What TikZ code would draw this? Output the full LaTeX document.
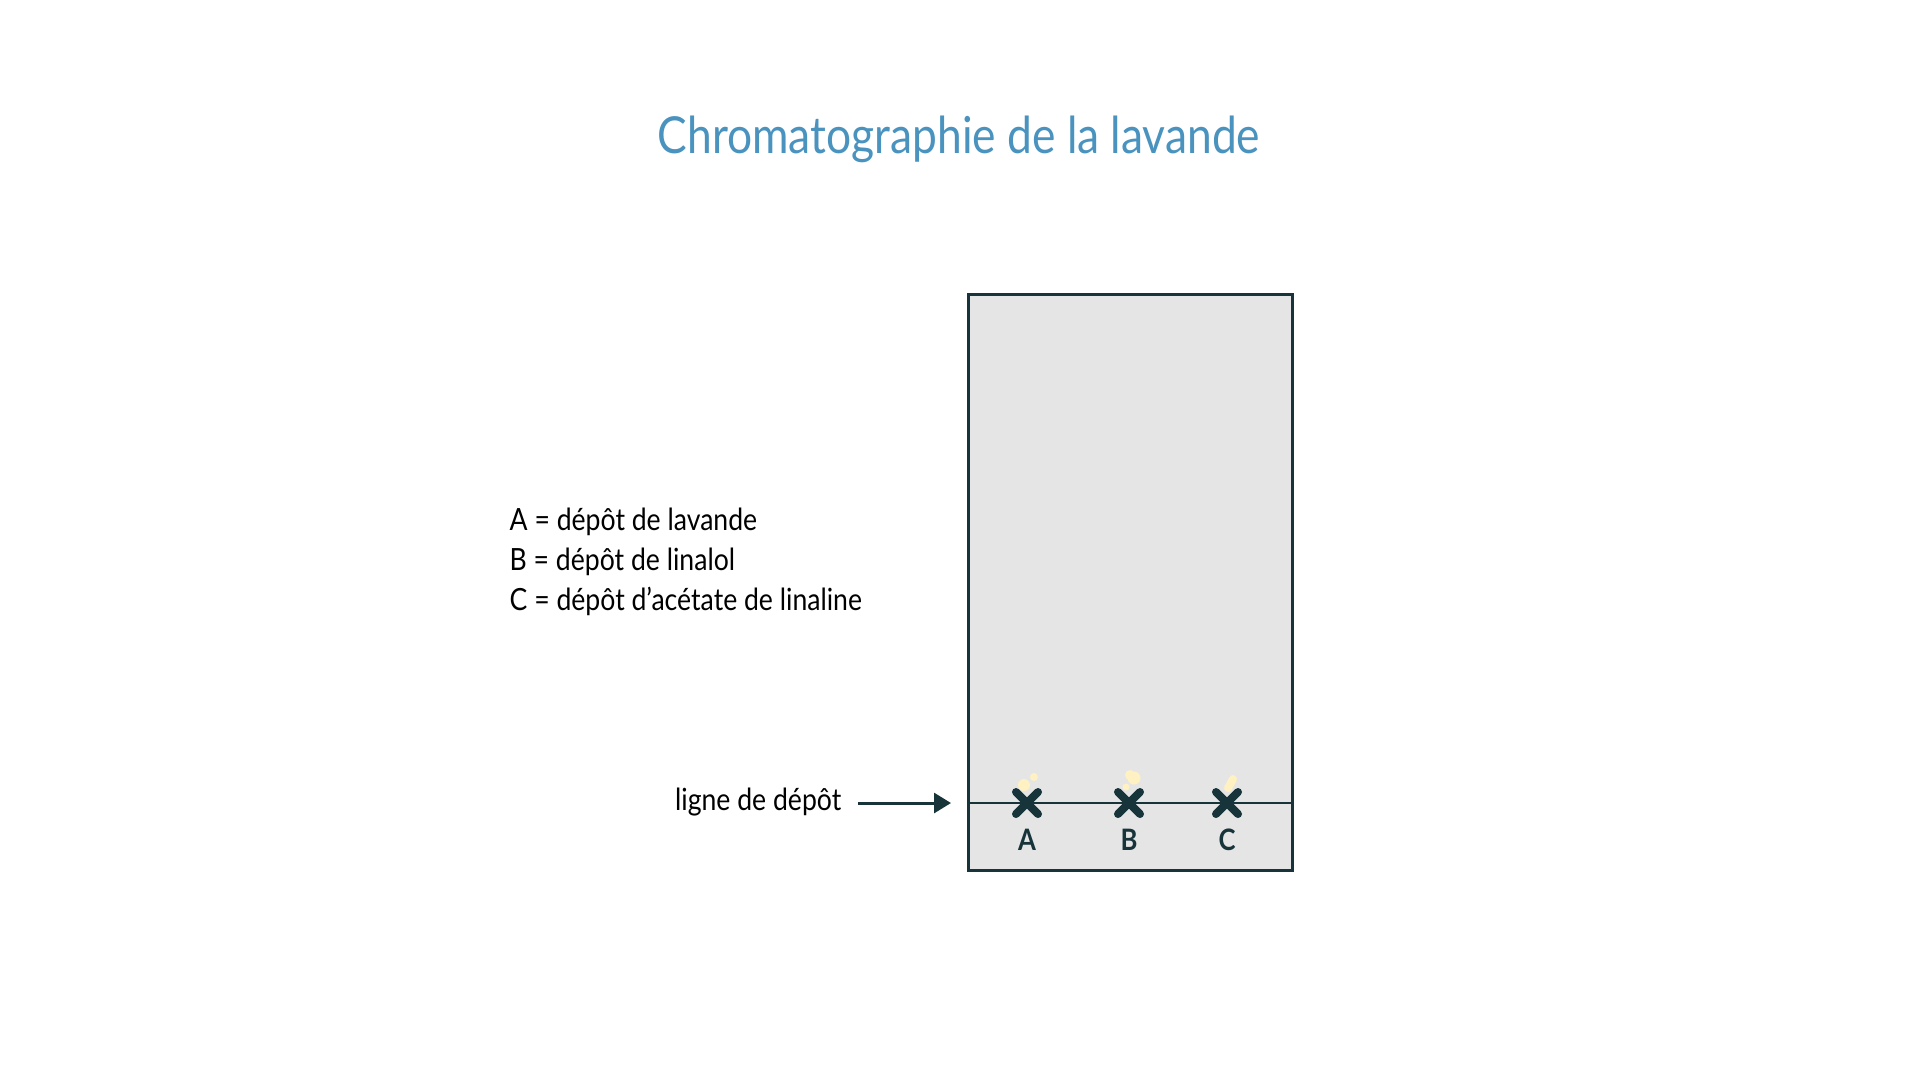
\documentclass[tikz,border=0pt]{standalone}
\usepackage{fontspec}
\setmainfont{Lato}[FakeStretch=0.87]
\usepackage{xcolor}
\usetikzlibrary{arrows.meta}
\usetikzlibrary{calc}
\usetikzlibrary{positioning}
\definecolor{bleutitre}{HTML}{4A93BF}
\definecolor{sombre}{HTML}{17343B}
\definecolor{gris}{HTML}{E5E5E5}
\definecolor{tache}{HTML}{FFF1C2}

\begin{document}
\begin{tikzpicture}[x=0.1mm,y=-0.1mm,
	legende/.style={anchor=base west,inner sep=0,font=\fontsize{8.7}{10}\selectfont},
	lettre/.style={anchor=base,inner sep=0,text=sombre,font=\fontsize{8.4}{10}\selectfont\bfseries},
	croix/.style={draw=sombre,line width=0.8mm,line cap=round},
	fleche/.style={draw=sombre,line width=0.3mm,-{Triangle[length=1.7mm,width=2mm]}}]
	\useasboundingbox (0,0) rectangle (1920,1080);
	\node[anchor=base,inner sep=0,text=bleutitre,font=\fontsize{14.5}{18}\selectfont] (titre) at (959,153) {Chromatographie de la lavande};
	\node[draw=sombre,fill=gris,line width=0.3mm,minimum width=32.4mm,minimum height=57.6mm,inner sep=0] (plaque) at (1130.5,582.5) {};
	\coordinate (depotA) at (1027,803);
	\coordinate (depotB) at (1129,803);
	\coordinate (depotC) at (1227,803);
	\draw[draw=sombre,line width=0.28mm] (plaque.west |- depotA) -- (plaque.east |- depotA);
	% taches
	\fill[tache] (1024,785) circle (6) (1034,777) circle (4);
	\fill[tache] (1134,778) circle (6.5) (1130,775) circle (5) (1126,787) circle (3.5);
	\draw[tache,line width=0.8mm,line cap=round] (1228,788) -- (1233,779);
	\draw[croix] ([shift={(-11,-11)}]depotA) -- ([shift={(11,11)}]depotA) ([shift={(-11,11)}]depotA) -- ([shift={(11,-11)}]depotA);
	\draw[croix] ([shift={(-11,-11)}]depotB) -- ([shift={(11,11)}]depotB) ([shift={(-11,11)}]depotB) -- ([shift={(11,-11)}]depotB);
	\draw[croix] ([shift={(-11,-11)}]depotC) -- ([shift={(11,11)}]depotC) ([shift={(-11,11)}]depotC) -- ([shift={(11,-11)}]depotC);
	\node[lettre] (lettreA) at (1027,850) {A};
	\node[lettre] (lettreB) at (1129,850) {B};
	\node[lettre] (lettreC) at (1227,850) {C};
	\node[legende,anchor=base east] (ligne) at (842,810) {ligne de dépôt};
	\coordinate (pointe) at (951,803);
	\draw[fleche] ($(ligne.east |- pointe)+(16,0)$) -- (pointe);
	\node[legende] (legA) at (509,530) {A = dépôt de lavande};
	\node[legende] (legB) at (509,570) {B = dépôt de linalol};
	\node[legende] (legC) at (509,610) {C = dépôt d’acétate de linaline};
\end{tikzpicture}
\end{document}
